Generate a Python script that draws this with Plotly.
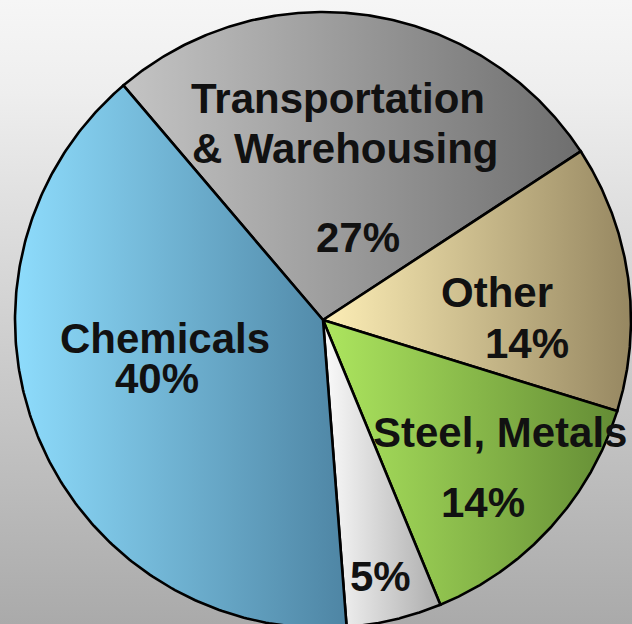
import numpy as np
import plotly.graph_objects as go

# --- data -------------------------------------------------------------
sectors = ["Transportation & Warehousing", "Other", "Steel, Metals",
           "Other Manufacturing", "Chemicals"]
shares = [27, 14, 14, 5, 40]
name_lines = [["Transportation", "& Warehousing"], ["Other"], ["Steel, Metals"],
              [], ["Chemicals"]]

# --- styling ----------------------------------------------------------
W, H = 632, 624
CX, CY, R = 323, 320, 308          # pie centre / radius in pixels
START_DEG = -40.4                   # first slice starts here (clockwise from 12 o'clock)

grad = [
    ("#c4c4c4", "#6e6e6e"),   # transportation
    ("#fdeeb6", "#968761"),   # other
    ("#ade65f", "#648c35"),   # steel
    ("#fbfbfb", "#acacac"),   # other manufacturing
    ("#8edcfc", "#4e85a4"),   # chemicals
]

# label placement (pixel centres) : name lines then percentage
name_pos = [[(338, 98), (345, 148)], [(497, 292)], [(500, 432)], [], [(165, 338)]]
pct_pos = [(358, 237), (527, 343), (483, 502), (380, 576), (157, 378)]

FONT = dict(family="Liberation Sans, Arial, sans-serif", size=42, color="#111111",
            weight="bold")

# axes in "radius" units so that one unit = R pixels on both axes
x_rng = [-CX / R, (W - CX) / R]
y_rng = [-(H - CY) / R, CY / R]

fig = go.Figure()

# background panel with vertical gradient
fig.add_trace(go.Scatter(
    x=[x_rng[0], x_rng[1], x_rng[1], x_rng[0], x_rng[0]],
    y=[y_rng[0], y_rng[0], y_rng[1], y_rng[1], y_rng[0]],
    mode="lines", line=dict(width=0), fill="toself",
    fillgradient=dict(type="vertical",
                      colorscale=[[0, "#aaaaaa"], [0.85, "#eeeeee"], [1, "#f6f6f6"]]),
    hoverinfo="skip", showlegend=False))

# pie slices as filled wedges built from the shares
total = float(sum(shares))
a0 = START_DEG
for i, (name, v) in enumerate(zip(sectors, shares)):
    a1 = a0 + 360.0 * v / total
    th = np.radians(np.linspace(a0, a1, 240))
    xs = np.concatenate([[0.0], np.sin(th), [0.0]])
    ys = np.concatenate([[0.0], np.cos(th), [0.0]])
    fig.add_trace(go.Scatter(
        x=xs, y=ys, mode="lines", fill="toself", name=name,
        line=dict(color="#000000", width=2.6),
        fillgradient=dict(type="horizontal",
                          colorscale=[[0, grad[i][0]], [1, grad[i][1]]]),
        hovertemplate=f"{name}: {v}%<extra></extra>", showlegend=False))
    a0 = a1

# text labels
def add_label(txt, px, py):
    fig.add_annotation(x=px / W, y=1 - py / H, xref="paper", yref="paper",
                       text=txt, showarrow=False, font=FONT,
                       xanchor="center", yanchor="middle")

for i, v in enumerate(shares):
    for line, (px, py) in zip(name_lines[i], name_pos[i]):
        add_label(line, px, py)
    add_label(f"{v}%", *pct_pos[i])

fig.update_xaxes(range=x_rng, visible=False, fixedrange=True)
fig.update_yaxes(range=y_rng, visible=False, fixedrange=True)
fig.update_layout(width=W, height=H, margin=dict(l=0, r=0, t=0, b=0),
                  paper_bgcolor="#e0e0e0", plot_bgcolor="#e0e0e0",
                  showlegend=False)

fig.write_html("out.html")
